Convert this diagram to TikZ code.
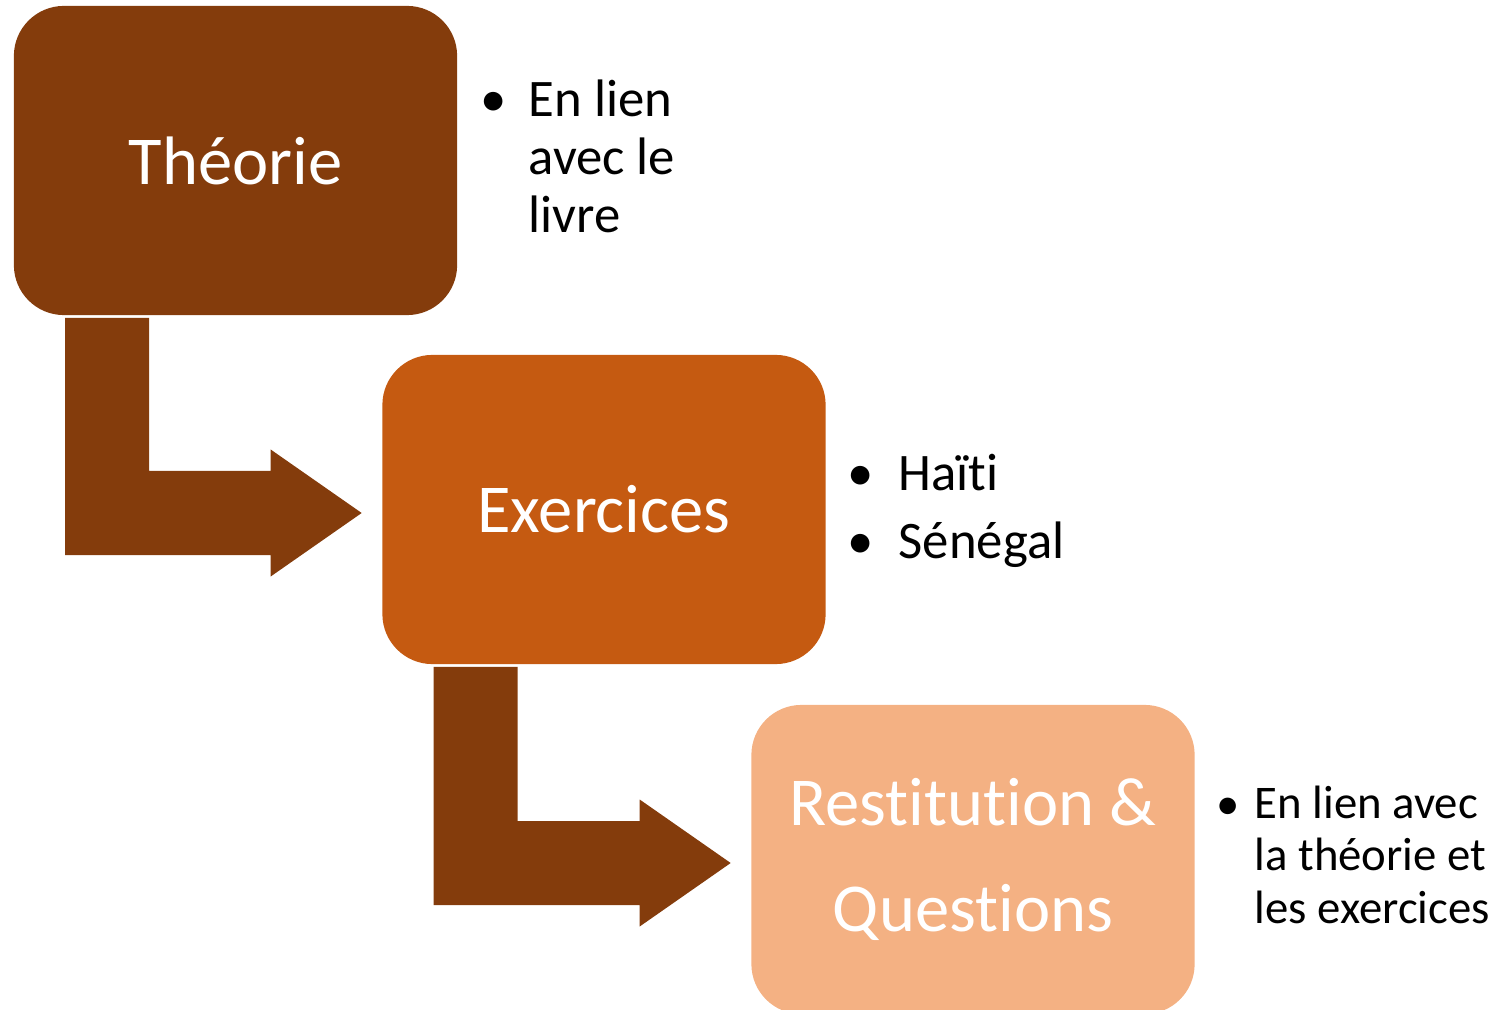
\documentclass[tikz,border=0pt]{standalone}
\usepackage{fontspec}
\setmainfont{Carlito}[RawFeature={-liga,-clig,-dlig,-calt}]
\usetikzlibrary{positioning,calc}
\definecolor{brun}{HTML}{843C0C}
\definecolor{rouille}{HTML}{C55A11}
\definecolor{peche}{HTML}{F4B183}

\begin{document}
\begin{tikzpicture}[x=0.01cm,y=-0.01cm,
  etape/.style={fill=#1,rounded corners=0.5cm,minimum width=4.43cm,minimum height=3.09cm,inner sep=0pt,text=white,align=center,font=\fontsize{19.5}{30}\selectfont},
  liste/.style 2 args={anchor=base west,align=left,inner sep=0pt,font=\fontsize{#1}{#2}\selectfont},
  puce/.style={anchor=base,inner sep=0pt,font=\fontsize{#1}{#1}\selectfont}]
  \useasboundingbox (0,0) rectangle (1498,1010);
  \node[etape=brun] (theorie) at (235.5,160.5) {Théorie};
  \node[etape=rouille] (exercices) at (604,509.5) {Exercices};
  \node[etape=peche] (restitution) at (973,859.5) {Restitution \&\\Questions};
  \foreach \a/\b in {theorie/exercices,exercices/restitution} {
    \coordinate (\a-p) at ($(\a.south west)+(52,2)$);
    \coordinate (\b-t) at ($(\b.west)+(-20,3.5)$);
    \fill[brun] (\a-p) -- ++(84,0) |- ($(\b-t)+(-91,-42)$) -- ++(0,-21.5) -- (\b-t) -- ($(\b-t)+(-91,63.5)$) -- ++(0,-21.5) -| (\a-p) -- cycle;
  }
  % base = last line of the block
  \node[puce=15] (p1) at (494,117) {\textbullet};
  \node[liste={15}{16.5}] (l1) at (528,233) {En lien\\avec le\\livre};
  \node[puce=15] (p2) at (861,491) {\textbullet};
  \node[liste={15}{16.5}] (l2) at (898,491) {Haïti};
  \node[puce=15] (p3) at (861,558) {\textbullet};
  \node[liste={15}{16.5}] (l3) at (898,558) {Sénégal};
  \node[puce=13.3] (p4) at (1228,819) {\textbullet};
  \node[liste={13.3}{14.8}] (l4) at (1254,923) {En lien avec\\la théorie et\\les exercices};
\end{tikzpicture}
\end{document}
